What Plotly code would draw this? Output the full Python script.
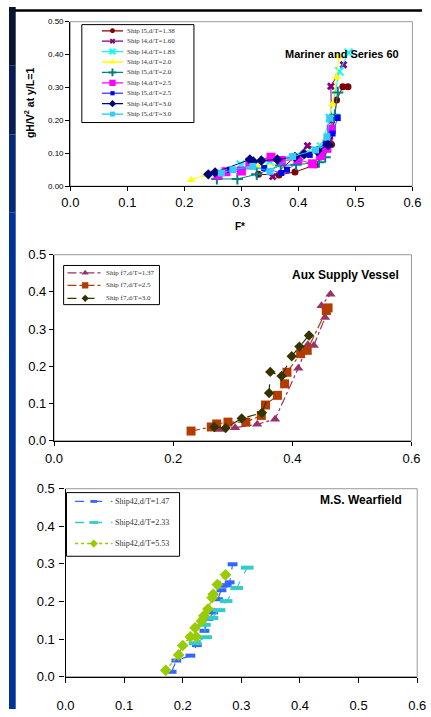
import plotly.graph_objects as go

W, H = 431, 717

# ---------------- Chart 1 : Mariner and Series 60 ----------------
c1_names = ["Ship l5,d/T=1.38", "Ship l4,d/T=1.60", "Ship l4,d/T=1.83",
            "Ship l4,d/T=2.0", "Ship l5,d/T=2.0", "Ship l4,d/T=2.5",
            "Ship l5,d/T=2.5", "Ship l4,d/T=3.0", "Ship l5,d/T=3.0"]

l5_138_x = [0.330, 0.366, 0.394, 0.430, 0.458, 0.467, 0.478, 0.487]
l5_138_y = [0.036, 0.034, 0.043, 0.065, 0.127, 0.262, 0.302, 0.302]
l4_160_x = [0.355, 0.416, 0.440, 0.455, 0.458, 0.457, 0.479]
l4_160_y = [0.029, 0.123, 0.110, 0.140, 0.200, 0.304, 0.369]
l4_183_x = [0.299, 0.350, 0.440, 0.455, 0.472, 0.488]
l4_183_y = [0.066, 0.075, 0.120, 0.207, 0.349, 0.406]
l4_20_x = [0.212, 0.237, 0.330, 0.370, 0.420, 0.448, 0.460, 0.467, 0.471]
l4_20_y = [0.019, 0.034, 0.060, 0.070, 0.100, 0.145, 0.249, 0.331, 0.394]
l5_20_x = [0.257, 0.293, 0.327, 0.369, 0.396, 0.436, 0.447, 0.464, 0.469]
l5_20_y = [0.022, 0.022, 0.036, 0.063, 0.065, 0.073, 0.088, 0.217, 0.285]
l4_25_x = [0.259, 0.273, 0.300, 0.315, 0.352, 0.370, 0.399, 0.425, 0.439, 0.450, 0.458]
l4_25_y = [0.034, 0.044, 0.046, 0.073, 0.088, 0.078, 0.081, 0.068, 0.093, 0.115, 0.173]
l5_25_x = [0.280, 0.340, 0.370, 0.380, 0.420, 0.448, 0.460, 0.469]
l5_25_y = [0.050, 0.055, 0.040, 0.050, 0.095, 0.130, 0.160, 0.207]
l4_30_x = [0.242, 0.254, 0.315, 0.321, 0.335, 0.363, 0.394, 0.410, 0.433, 0.452]
l4_30_y = [0.036, 0.042, 0.081, 0.075, 0.078, 0.081, 0.089, 0.098, 0.107, 0.125]
l5_30_x = [0.265, 0.285, 0.320, 0.350, 0.390, 0.430, 0.450, 0.455]
l5_30_y = [0.040, 0.050, 0.060, 0.045, 0.090, 0.110, 0.150, 0.207]

# ---------------- Chart 2 : Aux Supply Vessel ----------------
c2_names = ["Ship f7,d/T=1.37", "Ship f7,d/T=2.5", "Ship f7,d/T=3.0"]
f7_137_x = [0.277, 0.304, 0.341, 0.371, 0.410, 0.426, 0.436, 0.455, 0.449, 0.464]
f7_137_y = [0.030, 0.035, 0.044, 0.058, 0.195, 0.258, 0.256, 0.331, 0.363, 0.394]
f7_25_x = [0.230, 0.264, 0.273, 0.292, 0.322, 0.348, 0.355, 0.375, 0.387, 0.391,
           0.414, 0.425, 0.457, 0.460]
f7_25_y = [0.026, 0.037, 0.045, 0.050, 0.050, 0.068, 0.096, 0.122, 0.153, 0.184,
           0.234, 0.243, 0.350, 0.357]
f7_30_x = [0.269, 0.288, 0.315, 0.349, 0.361, 0.363, 0.382, 0.399, 0.412, 0.428]
f7_30_y = [0.037, 0.034, 0.060, 0.075, 0.128, 0.185, 0.174, 0.227, 0.253, 0.283]

# ---------------- Chart 3 : M.S. Wearfield ----------------
c3_names = ["Ship42,d/T=1.47", "Ship42,d/T=2.33", "Ship42,d/T=5.53"]
s42_147_x = [0.181, 0.189, 0.213, 0.224, 0.237, 0.244, 0.252, 0.260, 0.266, 0.268,
             0.275, 0.280, 0.285]
s42_147_y = [0.013, 0.043, 0.056, 0.084, 0.122, 0.154, 0.171, 0.206, 0.230, 0.242,
             0.243, 0.251, 0.299]
s42_233_x = [0.221, 0.239, 0.237, 0.250, 0.262, 0.274, 0.292, 0.310]
s42_233_y = [0.089, 0.105, 0.138, 0.156, 0.177, 0.201, 0.236, 0.290]
s42_553_x = [0.171, 0.193, 0.200, 0.213, 0.223, 0.221, 0.232, 0.236, 0.243, 0.250,
             0.252, 0.259, 0.273]
s42_553_y = [0.017, 0.058, 0.083, 0.106, 0.106, 0.130, 0.148, 0.162, 0.180, 0.210,
             0.219, 0.245, 0.271]

# ---------------- styling ----------------
FONT = "Liberation Sans, Arial, sans-serif"
SERIF = "Liberation Serif, Times New Roman, serif"

c1_styles = [
    dict(color="#800000", symbol="circle", size=7, lc="#800000", lw=1, dash="solid"),
    dict(color="#800080", symbol="x", size=7, lc="#800080", lw=1, dash="solid"),
    dict(color="#00FFFF", symbol="x-thin", size=8, lc="#00FFFF", lw=1, dash="solid"),
    dict(color="#FFFF00", symbol="triangle-up", size=8, lc="#FFFF00", lw=1, dash="solid"),
    dict(color="#008080", symbol="cross-thin", size=8, lc="#008080", lw=1, dash="solid"),
    dict(color="#FF00FF", symbol="square", size=9, lc="#FF00FF", lw=1, dash="solid"),
    dict(color="#0000FF", symbol="square", size=6, lc="#5555FF", lw=1, dash="solid"),
    dict(color="#000080", symbol="diamond", size=8, lc="#000080", lw=1, dash="solid"),
    dict(color="#33CCFF", symbol="square", size=7, lc="#00CCFF", lw=1, dash="solid"),
]
c1_data = [(l5_138_x, l5_138_y), (l4_160_x, l4_160_y), (l4_183_x, l4_183_y),
           (l4_20_x, l4_20_y), (l5_20_x, l5_20_y), (l4_25_x, l4_25_y),
           (l5_25_x, l5_25_y), (l4_30_x, l4_30_y), (l5_30_x, l5_30_y)]

c2_styles = [
    dict(color="#993366", symbol="triangle-up", size=9, lc="#993366", lw=1.2, dash="dashdot"),
    dict(color="#B33C00", symbol="square", size=9, lc="#B33C00", lw=1.2, dash="dashdot"),
    dict(color="#333300", symbol="diamond", size=8, lc="#333300", lw=1.2, dash="dash"),
]
c2_data = [(f7_137_x, f7_137_y), (f7_25_x, f7_25_y), (f7_30_x, f7_30_y)]

c3_styles = [
    dict(color="#3366FF", symbol="line-ew", size=7, lc="#3366FF", lw=1.2, dash="dash"),
    dict(color="#33CCCC", symbol="line-ew", size=9, lc="#33CCCC", lw=1.2, dash="dash"),
    dict(color="#99CC00", symbol="diamond", size=9, lc="#99CC00", lw=1.5, dash="dot"),
]
c3_data = [(s42_147_x, s42_147_y), (s42_233_x, s42_233_y), (s42_553_x, s42_553_y)]

# plot-area pixel geometry: (left, right, top, bottom) and axis ranges
AREAS = {
    "1": dict(px=(64, 421, 15, 183), xr=(0, 0.6), yr=(0, 0.5)),
    "2": dict(px=(47, 420, 253, 443), xr=(0, 0.6), yr=(0, 0.5)),
    "3": dict(px=(59, 426, 492, 684), xr=(0, 0.6), yr=(0, 0.5)),
}


def to_data(k, px, py):
    a = AREAS[k]
    l, r, t, b = a["px"]
    x = a["xr"][0] + (px - l) / (r - l) * (a["xr"][1] - a["xr"][0])
    y = a["yr"][0] + (b - py) / (b - t) * (a["yr"][1] - a["yr"][0])
    return x, y


def marker_of(st, scale=1.0):
    sym = st["symbol"]
    m = dict(symbol=sym, size=st["size"] * scale, color=st["color"])
    if sym in ("x-thin", "cross-thin"):
        m["line"] = dict(color=st["color"], width=2)
    elif sym == "line-ew":
        m["line"] = dict(color=st["color"], width=4 * scale)
    else:
        m["line"] = dict(width=0)
    return m


fig = go.Figure()
AX = {"1": ("x", "y"), "2": ("x2", "y2"), "3": ("x3", "y3")}


def add_series(k, data, styles):
    xa, ya = AX[k]
    for (xs, ys), st in zip(data, styles):
        fig.add_trace(go.Scatter(
            x=xs, y=ys, mode="lines+markers", xaxis=xa, yaxis=ya,
            line=dict(color=st["lc"], width=st["lw"], dash=st["dash"]),
            marker=marker_of(st), showlegend=False, cliponaxis=False))


add_series("1", c1_data, c1_styles)
add_series("2", c2_data, c2_styles)
add_series("3", c3_data, c3_styles)


# ---------------- manual legends (boxes in pixels -> data coords) ----------------
def legend(k, names, styles, box, rows, lx0, lx1, tx, fsize, mscale):
    xa, ya = AX[k]
    x0, y0, x1, y1 = box
    fig.add_shape(type="rect", xref="paper", yref="paper",
                  x0=x0 / W, x1=x1 / W, y0=1 - y1 / H, y1=1 - y0 / H,
                  line=dict(color="black", width=1), fillcolor="white", layer="below")
    for name, st, ry in zip(names, styles, rows):
        ax0, ay = to_data(k, lx0, ry)
        ax1, _ = to_data(k, lx1, ry)
        fig.add_trace(go.Scatter(
            x=[ax0, ax1], y=[ay, ay], mode="lines", xaxis=xa, yaxis=ya,
            line=dict(color=st["lc"], width=max(st["lw"], 1.3), dash=st["dash"]),
            showlegend=False, hoverinfo="skip", cliponaxis=False))
        fig.add_trace(go.Scatter(
            x=[(ax0 + ax1) / 2], y=[ay], mode="markers", xaxis=xa, yaxis=ya,
            marker=marker_of(st, mscale), showlegend=False, hoverinfo="skip",
            cliponaxis=False))
        fig.add_annotation(x=tx / W, y=1 - ry / H, xref="paper", yref="paper",
                           text=name, showarrow=False, xanchor="left", yanchor="middle",
                           font=dict(family=SERIF, size=fsize, color="#333333"))


legend("1", c1_names, c1_styles, (76, 18, 193, 118),
       [24.3 + 10.63 * i for i in range(9)], 97, 119, 121, 7, 0.7)
legend("2", c2_names, c2_styles, (57, 264, 157, 304), [271.5, 284.3, 297.5], 61, 98, 99, 7, 0.7)
legend("3", c3_names, c3_styles, (60, 496, 178, 561), [505, 526.5, 548], 69, 108, 109, 8, 0.7)


# ---------------- axes ----------------
def ax_common(**kw):
    d = dict(showgrid=False, zeroline=False, showline=True, linecolor="black",
             linewidth=1.3, ticks="outside", tickcolor="black", tickwidth=1,
             ticklen=4, fixedrange=True)
    d.update(kw)
    return d


def dom(k):
    l, r, t, b = AREAS[k]["px"]
    return [l / W, r / W], [1 - b / H, 1 - t / H]


dx1, dy1 = dom("1")
dx2, dy2 = dom("2")
dx3, dy3 = dom("3")

fig.update_layout(
    width=W, height=H, margin=dict(l=0, r=0, t=0, b=0),
    paper_bgcolor="white", plot_bgcolor="white", showlegend=False,
    font=dict(family=FONT, color="black"),
    xaxis=ax_common(domain=dx1, range=list(AREAS["1"]["xr"]), anchor="y",
                    tickvals=[0, 0.1, 0.2, 0.3, 0.4, 0.5, 0.6], tickformat=".1f",
                    tickfont=dict(size=13, family=FONT)),
    yaxis=ax_common(domain=dy1, range=list(AREAS["1"]["yr"]), anchor="x",
                    tickvals=[0, 0.1, 0.2, 0.3, 0.4, 0.5], tickformat=".2f",
                    tickfont=dict(size=8, family=FONT)),
    xaxis2=ax_common(domain=dx2, range=list(AREAS["2"]["xr"]), anchor="y2",
                     tickvals=[0, 0.2, 0.4, 0.6], tickformat=".1f",
                     tickfont=dict(size=13, family=FONT), ticklabelstandoff=2),
    yaxis2=ax_common(domain=dy2, range=list(AREAS["2"]["yr"]), anchor="x2",
                     tickvals=[0, 0.1, 0.2, 0.3, 0.4, 0.5], tickformat=".1f",
                     tickfont=dict(size=13, family=FONT)),
    xaxis3=ax_common(domain=dx3, range=list(AREAS["3"]["xr"]), anchor="y3",
                     tickvals=[0, 0.1, 0.2, 0.3, 0.4, 0.5, 0.6], tickformat=".1f",
                     tickfont=dict(size=13, family=FONT), ticklen=5, ticklabelstandoff=12),
    yaxis3=ax_common(domain=dy3, range=list(AREAS["3"]["yr"]), anchor="x3",
                     tickvals=[0, 0.1, 0.2, 0.3, 0.4, 0.5], tickformat=".1f",
                     tickfont=dict(size=13, family=FONT), ticklen=5, ticklabelstandoff=2),
)

# gray frames (top/right) for each plot area
for xr, yr in (("x", "y"), ("x2", "y2"), ("x3", "y3")):
    fig.add_shape(type="rect", xref=xr + " domain", yref=yr + " domain",
                  x0=0, x1=1, y0=0, y1=1, line=dict(color="#9a9a9a", width=1),
                  layer="below")

# left blue strip (darker at top) and top black rule
strip = [(0, 60, "#0b1430"), (60, 130, "#0a1d52"), (130, 210, "#062a78"), (210, H, "#003399")]
for a, b, c in strip:
    fig.add_shape(type="rect", xref="paper", yref="paper", x0=0, x1=7 / W,
                  y0=1 - b / H, y1=1 - a / H, line=dict(width=0), fillcolor=c, layer="above")
fig.add_shape(type="line", xref="paper", yref="paper", x0=6 / W, x1=1,
              y0=1 - 3.5 / H, y1=1 - 3.5 / H, line=dict(color="black", width=2.5))


# titles
def ann(text, x, y, size, angle=0):
    fig.add_annotation(x=x / W, y=1 - y / H, xref="paper", yref="paper",
                       xanchor="center", yanchor="middle",
                       text="<b>" + text + "</b>", showarrow=False, textangle=angle,
                       font=dict(family=FONT, size=size, color="black"))


ann("Mariner and Series 60", 348, 48, 11)
ann("Aux Supply Vessel", 351, 274, 12)
ann("M.S. Wearfield", 367, 504, 12)
ann("gH/V<sup>2</sup> at y/L=1", 21, 98, 10.5, angle=-90)
ann("F*", 241, 224, 10)

fig.write_html("out.html")
